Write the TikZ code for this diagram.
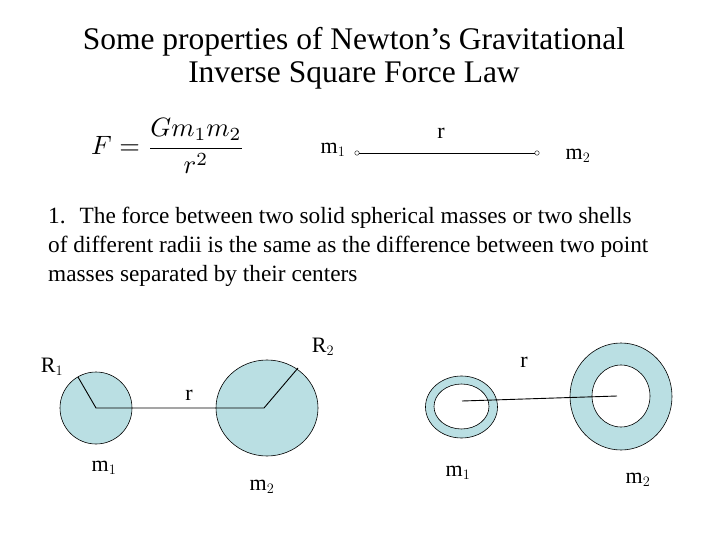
\documentclass[tikz,border=0pt]{standalone}
\usepackage{fontspec}
\setmainfont{Liberation Serif}
\definecolor{fillb}{HTML}{BADFE3}
\begin{document}
\begin{tikzpicture}[x=1pt,y=-1pt,
  lab/.style={font=\fontsize{22}{26}\selectfont, inner sep=0pt},
  mass/.style={draw=black, fill=fillb, line width=0.6pt},
  seg/.style={line width=0.9pt},
  dot/.style={circle, draw, inner sep=0pt, minimum size=4.5pt}]
\useasboundingbox (0,0) rectangle (720,540);
\node[align=center, font=\fontsize{31.5}{33}\selectfont] (title) at (354,58) {Some properties of Newton’s Gravitational\\Inverse Square Force Law};
\node (formula) at (168,146) {\scalebox{2.65}{$\displaystyle F=\frac{Gm_1m_2}{r^2}$}};
\node[dot] (p1) at (357,153) {};
\node[dot] (p2) at (537,153) {};
\draw[seg] (p1) -- (p2);
\node[lab] (m1a) at (333,150) {m$_1$};
\node[lab] (m2a) at (578,156) {m$_2$};
\node[lab] (ra) at (441,133) {r};
\node[anchor=north west, align=left, font=\fontsize{23.3}{29}\selectfont, inner sep=0pt] (txt) at (48,207)
 {1.\hspace{0.6em}The force between two solid spherical masses or two shells\\of different radii is the same as the difference between two point\\masses separated by their centers};
% solid spheres
\draw[mass] (96,408) ellipse [x radius=36, y radius=36];
\draw[mass] (267,408) ellipse [x radius=51, y radius=48];
\coordinate (c1) at (96,408);
\coordinate (e1) at (78,377);
\coordinate (c2) at (264,408);
\coordinate (e2) at (298,368);
\draw[seg] (e1) -- (c1) -- (c2) -- (e2);
\node[lab] (R1) at (52,367) {R$_1$};
\node[lab] (R2) at (323,347) {R$_2$};
\node[lab] (r1) at (189,395) {r};
\node[lab] (m1b) at (104,468) {m$_1$};
\node[lab] (m2b) at (262,487) {m$_2$};
% shells
\draw[mass, even odd rule] (461.5,407) ellipse [x radius=36, y radius=31] (461.5,406.5) ellipse [x radius=27.5, y radius=22.5];
\draw[mass, even odd rule] (621,396.5) ellipse [x radius=51, y radius=53.5] (621,396) ellipse [x radius=29, y radius=31];
\coordinate (s1) at (462,401);
\coordinate (s2) at (617,396);
\draw[seg] (s1) -- (s2);
\node[lab] (r2) at (524,362) {r};
\node[lab] (m1c) at (458,473) {m$_1$};
\node[lab] (m2c) at (638,480) {m$_2$};
\end{tikzpicture}
\end{document}
